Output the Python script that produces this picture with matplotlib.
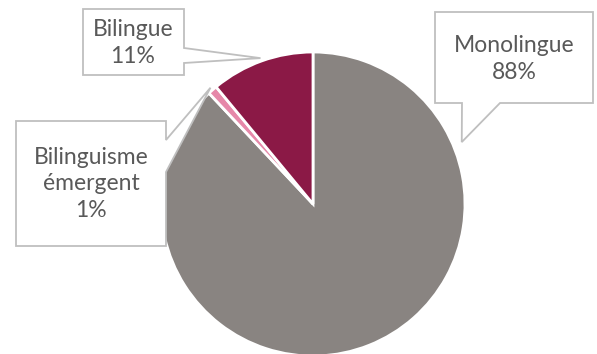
import numpy as np
import matplotlib.pyplot as plt
from matplotlib.patches import Polygon

# data
labels = ['Monolingue', 'Bilinguisme\némergent', 'Bilingue']
values = [88, 1, 11]
pct_labels = ['88%', '1%', '11%']
colors = ['#898481', '#E688A9', '#8B1946']

W, H = 597, 354
CX, CY, R = 313, 204, 152  # pie centre / radius in pixels


def px(x, y):
    # pixel position -> data coords (pie radius = 1)
    return ((x - CX) / R, (CY - y) / R)


fig = plt.figure(figsize=(W / 100, H / 100), dpi=100)
ax = fig.add_axes([0, 0, 1, 1])
wedges, _ = ax.pie(values, colors=colors, startangle=90, counterclock=False,
                   radius=1, wedgeprops=dict(edgecolor='white', linewidth=2))
ax.set_xlim(px(0, 0)[0], px(W, 0)[0])
ax.set_ylim(px(0, H)[1], px(0, 0)[1])
ax.set_aspect('auto')
ax.axis('off')


def mid_tip(w, r):
    a = np.deg2rad((w.theta1 + w.theta2) / 2)
    return (r * np.cos(a), r * np.sin(a))


def ang_tip(deg, r):
    a = np.deg2rad(deg)
    return (r * np.cos(a), r * np.sin(a))


# callout outlines (box corners in pixels, tail inserted)
def callout(box, tail_pts, tip_xy, side):
    x0, y0, x1, y1 = box
    if side == 'right':
        pts = [px(x0, y0), px(x1, y0), px(x1, tail_pts[0]), tip_xy,
               px(x1, tail_pts[1]), px(x1, y1), px(x0, y1)]
    else:  # bottom
        pts = [px(x0, y0), px(x1, y0), px(x1, y1), px(tail_pts[1], y1), tip_xy,
               px(tail_pts[0], y1), px(x0, y1)]
    ax.add_patch(Polygon(pts, closed=True, facecolor='white', edgecolor='#BFBFBF',
                         linewidth=1.3, zorder=5))


callout((435, 12, 593, 103), (462, 500), ang_tip(22.6, 1.06), 'bottom')
callout((16, 121, 166, 246), (140, 172), mid_tip(wedges[1], 1.02), 'right')
callout((83, 9, 184, 75), (48, 63), mid_tip(wedges[2], 1.02), 'right')

text_pos = [(514, 59), (91, 184), (133, 43)]
for lab, pct, (tx, ty) in zip(labels, pct_labels, text_pos):
    x, y = px(tx, ty)
    ax.text(x, y, lab + '\n' + pct, ha='center', va='center', fontsize=16.5,
            family='Lato', color='#595959', linespacing=1.35, zorder=6)

fig.savefig('out.png', dpi=100)
